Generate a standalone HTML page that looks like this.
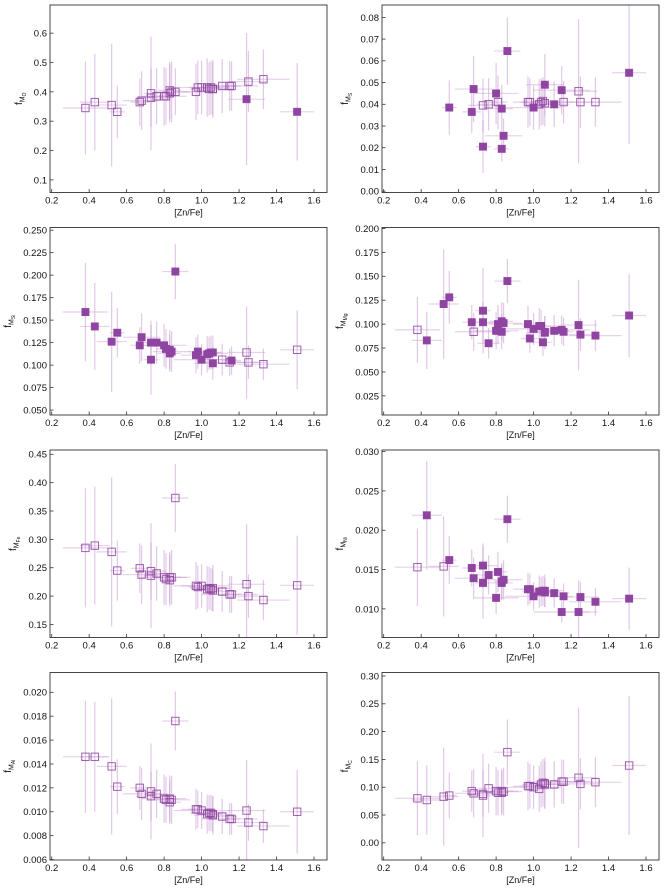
<!DOCTYPE html>
<html><head><meta charset="utf-8">
<style>
html,body{margin:0;padding:0;background:#fff;}
svg{display:block;font-family:"Liberation Sans","DejaVu Sans",sans-serif;}
</style></head>
<body>
<svg id="fig" width="664" height="891" viewBox="0 0 664 891" xmlns="http://www.w3.org/2000/svg"></svg>
<script>
const starX = [0.38,0.43,0.52,0.55,0.67,0.68,0.73,0.73,0.76,0.80,0.81,0.83,0.83,0.84,0.86,0.97,0.98,1.00,1.03,1.04,1.05,1.06,1.06,1.11,1.15,1.16,1.24,1.25,1.33,1.51];
const starXErr = [0.12,0.08,0.08,0.04,0.05,0.10,0.04,0.08,0.06,0.12,0.05,0.06,0.04,0.10,0.07,0.08,0.05,0.15,0.06,0.10,0.05,0.10,0.05,0.08,0.15,0.05,0.10,0.10,0.14,0.09];
const starRelErr = [0.46,0.45,0.59,0.27,0.22,0.27,0.49,0.26,0.25,0.26,0.25,0.24,0.25,0.26,0.2,0.24,0.22,0.22,0.24,0.22,0.22,0.24,0.22,0.22,0.2,0.2,0.6,0.24,0.23,0.5];

const valsO  = [0.345,0.365,0.355,0.332,0.365,0.37,0.395,0.38,0.385,0.385,0.385,0.405,0.395,0.40,0.40,0.40,0.415,0.415,0.415,0.41,0.415,0.41,0.41,0.42,0.42,0.42,0.375,0.435,0.443,0.332];
const fillO  = [0,0,0,0,0,0,0,0,0,0,0,0,0,0,0,0,0,0,0,0,0,0,0,0,0,0,1,0,0,1];
const valsS  = [null,null,null,0.0385,0.0365,0.047,0.0205,0.0395,0.040,0.045,0.041,0.038,0.0195,0.0255,0.0645,0.041,0.041,0.0385,0.040,0.041,0.0415,0.049,0.0405,0.040,0.0465,0.041,0.046,0.041,0.041,0.0545];
const fillS  = [1,1,1,1,1,1,1,0,0,1,0,1,1,1,1,0,0,1,0,0,0,1,0,1,1,0,0,0,0,1];
const valsSi = [0.159,0.143,0.126,0.136,0.122,0.131,0.106,0.125,0.125,0.122,0.118,0.113,0.117,0.115,0.204,0.111,0.115,0.106,0.112,0.113,0.114,0.102,0.114,0.106,0.103,0.105,0.114,0.103,0.101,0.117];
const fillSi = [1,1,1,1,1,1,1,1,1,1,1,1,1,1,1,1,1,1,1,1,1,1,1,0,0,1,0,0,0,0];
const valsMg = [0.094,0.083,0.121,0.128,0.102,0.092,0.114,0.102,0.080,0.093,0.100,0.103,0.092,0.101,0.145,0.100,0.085,0.095,0.098,0.098,0.081,0.091,0.092,0.093,0.094,0.092,0.099,0.089,0.088,0.109];
const fillMg = [0,1,1,1,1,0,1,1,1,1,1,1,1,1,1,1,1,1,1,1,1,1,1,1,1,1,1,1,1,1];
const valsFe = [0.285,0.289,0.278,0.245,0.249,0.238,0.236,0.244,0.240,0.233,0.230,0.233,0.228,0.233,0.373,0.218,0.216,0.218,0.212,0.214,0.212,0.214,0.210,0.208,0.203,0.203,0.221,0.200,0.193,0.219];
const fillFe = [0,0,0,0,0,0,0,0,0,0,0,0,0,0,0,0,0,0,0,0,0,0,0,0,0,0,0,0,0,0];
const valsNi = [0.0153,0.0219,0.0154,0.0162,0.0152,0.0139,0.0133,0.0155,0.0143,0.0114,0.0147,0.0133,0.0135,0.0137,0.0214,0.0125,0.0125,0.0116,0.0122,0.0122,0.0123,0.0123,0.0121,0.0120,0.0096,0.0116,0.0096,0.0115,0.0109,0.0113];
const fillNi = [0,1,0,1,1,1,1,1,1,1,1,1,1,1,1,1,1,1,1,1,1,1,1,1,1,1,1,1,1,1];
const valsAl = [0.0146,0.0146,0.0138,0.0121,0.0120,0.0115,0.0117,0.0113,0.0115,0.0111,0.0110,0.0108,0.0111,0.0110,0.0176,0.0102,0.0102,0.0101,0.0098,0.0099,0.0099,0.0097,0.0098,0.0096,0.0094,0.0094,0.0101,0.0091,0.0088,0.0100];
const fillAl = [0,0,0,0,0,0,0,0,0,0,0,0,0,0,0,0,0,0,0,0,0,0,0,0,0,0,0,0,0,0];
const valsC  = [0.080,0.077,0.083,0.085,0.093,0.089,0.085,0.088,0.098,0.093,0.090,0.093,0.090,0.092,0.163,0.102,0.102,0.100,0.097,0.105,0.108,0.107,0.105,0.105,0.110,0.110,0.117,0.106,0.109,0.139];
const fillC  = [0,0,0,0,0,0,0,0,0,0,0,0,0,0,0,0,0,0,0,0,0,0,0,0,0,0,0,0,0,0];

const xTicks = [0.2,0.4,0.6,0.8,1.0,1.2,1.4,1.6];
const ticksO  = [0.1,0.2,0.3,0.4,0.5,0.6];
const ticksS  = [0,0.01,0.02,0.03,0.04,0.05,0.06,0.07,0.08];
const ticksSi = [0.05,0.075,0.1,0.125,0.15,0.175,0.2,0.225,0.25];
const ticksMg = [0.025,0.05,0.075,0.1,0.125,0.15,0.175,0.2];
const ticksFe = [0.15,0.2,0.25,0.3,0.35,0.4,0.45];
const ticksNi = [0.01,0.015,0.02,0.025,0.03];
const ticksAl = [0.006,0.008,0.01,0.012,0.014,0.016,0.018,0.02];
const ticksC  = [0,0.05,0.1,0.15,0.2,0.25,0.3];

const panels = [
 {name:'o',sub:'O',vals:valsO,fill:valsO&&fillO,ticks:ticksO,dec:1,ylim:[0.057,0.696],errScale:1.0,col:0,row:0},
 {name:'s',sub:'S',vals:valsS,fill:fillS,ticks:ticksS,dec:2,ylim:[-0.0006,0.0857],errScale:1.2,col:1,row:0},
 {name:'si',sub:'Si',vals:valsSi,fill:fillSi,ticks:ticksSi,dec:3,ylim:[0.0445,0.253],errScale:0.75,col:0,row:1},
 {name:'mg',sub:'Mg',vals:valsMg,fill:fillMg,ticks:ticksMg,dec:3,ylim:[0.005,0.201],errScale:0.8,col:1,row:1},
 {name:'fe',sub:'Fe',vals:valsFe,fill:fillFe,ticks:ticksFe,dec:2,ylim:[0.127,0.4576],errScale:0.8,col:0,row:2},
 {name:'ni',sub:'Ni',vals:valsNi,fill:fillNi,ticks:ticksNi,dec:3,ylim:[0.00636,0.0302],errScale:0.7,col:1,row:2},
 {name:'al',sub:'Al',vals:valsAl,fill:fillAl,ticks:ticksAl,dec:3,ylim:[0.00596,0.02166],errScale:0.7,col:0,row:3},
 {name:'c',sub:'C',vals:valsC,fill:fillC,ticks:ticksC,dec:2,ylim:[-0.0309,0.3063],errScale:1.8,col:1,row:3}
];

const NS='http://www.w3.org/2000/svg';
const svg=document.getElementById('fig');
function mk(tag,attrs,parent){const e=document.createElementNS(NS,tag);for(const k in attrs)e.setAttribute(k,attrs[k]);(parent||svg).appendChild(e);return e;}

const PURPLE='#8e44a0', ERR='#c99ad3';
const rowTop=[5,227.5,450,672.5], H=187.5;
panels.forEach(p=>{
  const off=p.col*332, L=50+off, R=327+off, T=rowTop[p.row], B=T+H;
  const xs=v=>51.7+off+(v-0.2)*(314-51.7)/1.4;
  const ys=v=>B-(v-p.ylim[0])/(p.ylim[1]-p.ylim[0])*H;
  const g=mk('g',{});
  
  
  // error bars
  const eg=mk('g',{},g);
  
  
  p.vals.forEach((v,i)=>{
    if(v===null)return;
    const x=starX[i], ye=v*starRelErr[i]*p.errScale;
    const l1=mk('line',{x1:xs(x-starXErr[i]),x2:xs(x+starXErr[i]),y1:ys(v),y2:ys(v),stroke:ERR,'stroke-width':1.2,'stroke-opacity':0.45},eg);
    
    
    const l2=mk('line',{x1:xs(x),x2:xs(x),y1:Math.max(T,ys(v+ye)),y2:Math.min(B,ys(v-ye)),stroke:ERR,'stroke-width':1.2,'stroke-opacity':0.55},eg);
    
    
  });
  // markers
  p.vals.forEach((v,i)=>{
    if(v===null)return;
    const f=p.fill[i]===1, s=7.4;
    const r=mk('rect',{x:xs(starX[i])-s/2,y:ys(v)-s/2,width:s,height:s,fill:f?PURPLE:'none',stroke:PURPLE,'stroke-width':f?0.5:1,'stroke-opacity':f?1:0.85},g);
    
    
  });
  // frame
  const fr=mk('rect',{x:L,y:T,width:R-L,height:H,fill:'none',stroke:'#333','stroke-width':0.9},g);
  
  
  // x ticks
  xTicks.forEach(t=>{
    const x=xs(t);
    const tk=mk('line',{x1:x,x2:x,y1:B,y2:B-3.5,stroke:'#333','stroke-width':0.8},g);
    
    
    const tx=mk('text',{x:x,y:B+11,'font-size':9.5,'text-anchor':'middle',fill:'#111'},g);
    tx.textContent=t.toFixed(1);
    
    
  });
  const xl=mk('text',{x:(L+R)/2,y:B+23,'font-size':9,'text-anchor':'middle',fill:'#111'},g);
  xl.textContent='[Zn/Fe]';
  
  
  // y ticks
  p.ticks.forEach(t=>{
    const y=ys(t);
    const tk=mk('line',{x1:L,x2:L+3.5,y1:y,y2:y,stroke:'#333','stroke-width':0.8},g);
    
    
    const tx=mk('text',{x:L-3,y:y+3.4,'font-size':9.5,'text-anchor':'end',fill:'#111'},g);
    tx.textContent=t.toFixed(p.dec);
    
    
  });
  const yx=off+(p.dec===1?22:(p.dec===2?16:11)), yy=(T+B)/2;
  const yl=mk('text',{x:yx,y:yy,'font-size':10,fill:'#111',transform:'rotate(-90 '+yx+' '+yy+')','text-anchor':'middle'},g);
  const a=mk('tspan',{},yl);a.textContent='f';
  const b=mk('tspan',{'font-size':7,dy:2.5},yl);b.textContent='M';
  const c=mk('tspan',{'font-size':5,dy:1.5},yl);c.textContent=p.sub;
  
  
});
</script>
</body></html>
